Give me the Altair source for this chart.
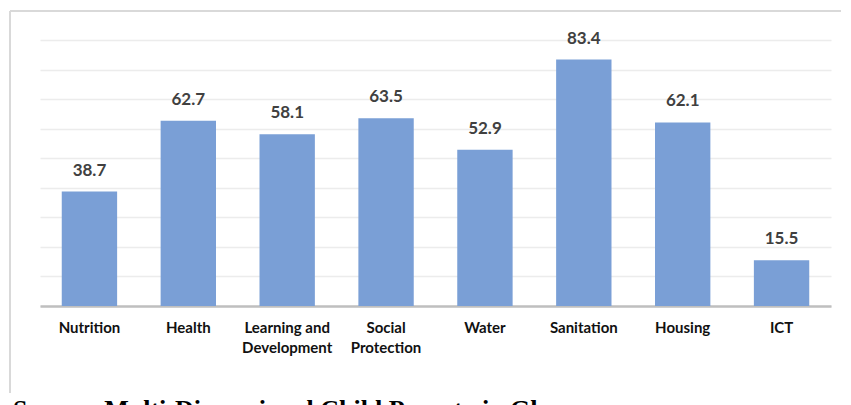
import altair as alt
import pandas as pd

categories = ["Nutrition", "Health", "Learning and|Development", "Social|Protection",
              "Water", "Sanitation", "Housing", "ICT"]
values = [38.7, 62.7, 58.1, 63.5, 52.9, 83.4, 62.1, 15.5]
labels = ["38.7", "62.7", "58.1", "63.5", "52.9", "83.4", "62.1", "15.5"]
source_text = ["Source: Multi-Dimensional Child Poverty in Ghana"]

df = pd.DataFrame({"cat": categories, "val": values, "lab": labels})

W, H = 791, 266

x_enc = alt.X("cat:N", sort=categories, title=None,
              scale=alt.Scale(paddingInner=0.44, paddingOuter=0.22),
              axis=alt.Axis(labelExpr="split(datum.label, '|')", labelAngle=0,
                            labelFont="Lato", labelFontWeight="bold", labelFontSize=15,
                            labelColor="#111111", labelLineHeight=20, labelPadding=14,
                            labelBaseline="top",
                            ticks=False, domainColor="#bfbfbf", domainWidth=2.5,
                            grid=False))
y_enc = alt.Y("val:Q", title=None,
              scale=alt.Scale(domain=[0, 90], nice=False),
              axis=alt.Axis(values=list(range(0, 91, 10)), labels=False, ticks=False,
                            domain=False, grid=True, gridColor="#ececec", gridWidth=1.5))

one = pd.DataFrame({"a": [0]})
frame_top = alt.Chart(one).mark_rule(color="#d9d9d9", strokeWidth=2).encode(
    x=alt.value(-30), x2=alt.value(W + 60), y=alt.value(-29))
frame_left = alt.Chart(one).mark_rule(color="#d9d9d9", strokeWidth=2).encode(
    x=alt.value(-30), y=alt.value(-29), y2=alt.value(H + 87))

bars = alt.Chart(df).mark_bar(color="#7a9fd6").encode(x=x_enc, y=y_enc)

text = alt.Chart(df).mark_text(
    font="Lato", fontWeight="bold", fontSize=17, color="#404040", dy=-16,
    baseline="alphabetic"
).encode(x=x_enc, y=y_enc, text="lab:N")

src = alt.Chart(pd.DataFrame({"s": source_text})).mark_text(
    font="Liberation Serif", fontWeight="bold", fontSize=26, color="#000000",
    align="left", baseline="alphabetic"
).encode(x=alt.value(-27), y=alt.value(H + 112), text="s:N")

chart = alt.layer(frame_top, frame_left, bars, text, src).properties(
    width=W, height=H,
    autosize=alt.AutoSizeParams(type="none"),
    padding={"left": 32, "top": 32, "right": 10, "bottom": 120},
).configure(background="white").configure_view(stroke=None)

chart.save("out.html", embed_options={"renderer": "svg", "actions": False})
